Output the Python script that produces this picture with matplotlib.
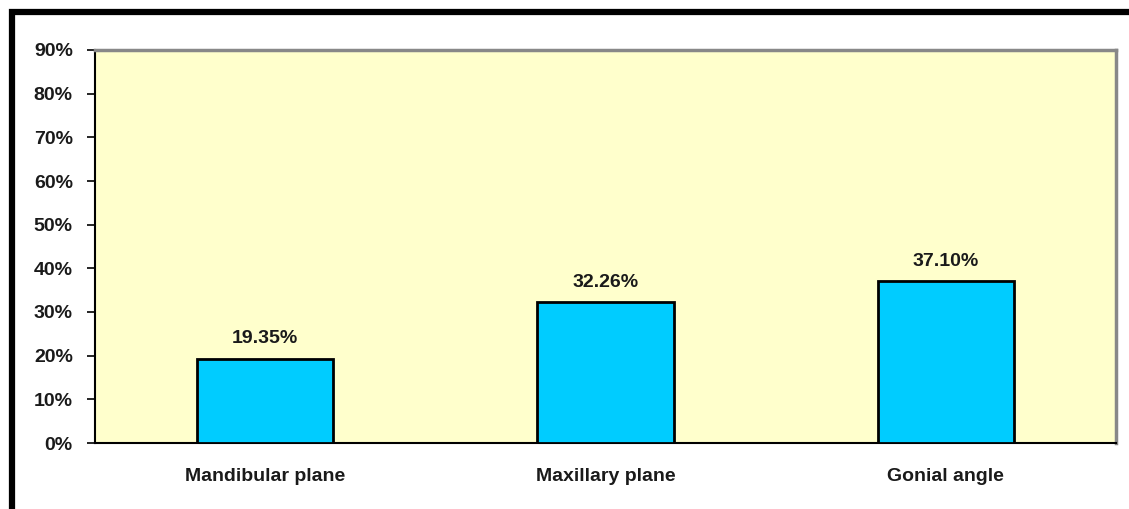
import matplotlib
matplotlib.use('Agg')
import matplotlib.pyplot as plt
from matplotlib.patches import Rectangle
import numpy as np

plt.rcParams['font.family'] = ['Liberation Sans', 'DejaVu Sans']

# data
categories = ['Mandibular plane', 'Maxillary plane', 'Gonial angle']
values = [19.35, 32.26, 37.10]
yticks = [0, 10, 20, 30, 40, 50, 60, 70, 80, 90]

W, H = 1129, 509
fig = plt.figure(figsize=(W / 100, H / 100), dpi=100)
ax = fig.add_axes([95 / W, 1 - 443 / H, (1116 - 95) / W, (443 - 50) / H])
ax.set_facecolor('#FFFFCC')

x = np.arange(len(categories))
bars = ax.bar(x, values, width=0.4, color='#00CCFF', edgecolor='black', linewidth=2, zorder=3)

for b, v in zip(bars, values):
    ax.annotate(f'{v:.2f}%', (b.get_x() + b.get_width() / 2, v), xytext=(0, 8),
                textcoords='offset points', ha='center', va='bottom',
                fontsize=14, fontweight='bold', color='#1a1a1a')

ax.set_xlim(-0.5, len(categories) - 0.5)
ax.set_ylim(0, 90)
ax.set_yticks(yticks)
ax.set_yticklabels([f'{t}%' for t in yticks], fontsize=14, fontweight='bold', color='#1a1a1a')
ax.set_xticks(x)
ax.set_xticklabels(categories, fontsize=14, fontweight='bold', color='#1a1a1a')
ax.tick_params(axis='x', length=0, pad=18)
ax.tick_params(axis='y', length=6, width=1.2, direction='out', pad=10)

for s in ['left', 'bottom']:
    ax.spines[s].set_color('black')
    ax.spines[s].set_linewidth(1.5)
for s in ['top', 'right']:
    ax.spines[s].set_color('#888888')
    ax.spines[s].set_linewidth(2.5)

# outer frame running off the right and bottom edges
fig.patches.append(Rectangle((11.5 / W, -0.2), 1.2, 1 - 11.5 / H + 0.2,
                             transform=fig.transFigure, fill=False,
                             edgecolor='black', linewidth=4.5))

fig.savefig('out.png', dpi=100)
